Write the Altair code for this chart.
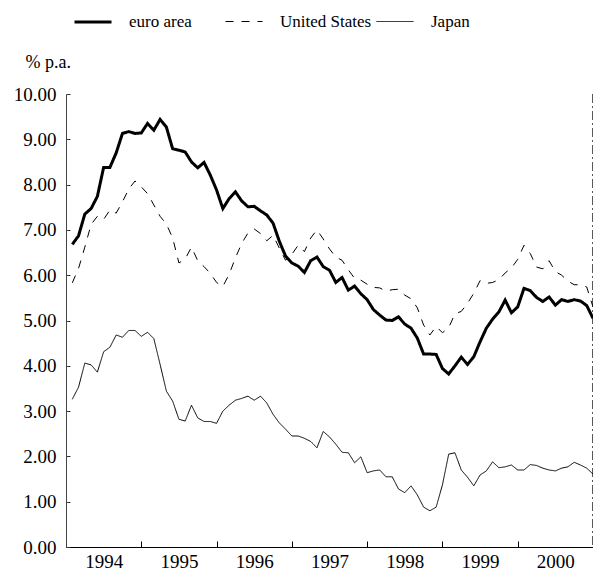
import altair as alt
import pandas as pd

# ---- data (monthly, Jan 1994 - Dec 2000), % p.a. ----
series_names = ["euro area", "United States", "Japan"]

euro_area = [
    6.68, 6.87, 7.35, 7.47, 7.74, 8.38, 8.38, 8.70, 9.13, 9.17, 9.13, 9.14,
    9.35, 9.20, 9.44, 9.27, 8.79, 8.76, 8.72, 8.50, 8.37, 8.49, 8.21, 7.88,
    7.47, 7.69, 7.84, 7.64, 7.51, 7.52, 7.42, 7.33, 7.15, 6.75, 6.42, 6.27,
    6.20, 6.06, 6.32, 6.40, 6.19, 6.11, 5.84, 5.95, 5.67, 5.76, 5.59, 5.46,
    5.24, 5.12, 5.01, 5.00, 5.08, 4.92, 4.83, 4.61, 4.26, 4.26, 4.25, 3.94,
    3.82, 4.00, 4.19, 4.03, 4.20, 4.53, 4.83, 5.03, 5.19, 5.45, 5.17, 5.30,
    5.71, 5.66, 5.51, 5.42, 5.52, 5.34, 5.46, 5.42, 5.46, 5.43, 5.33, 5.05,
]

united_states = [
    5.83, 6.15, 6.62, 7.12, 7.30, 7.23, 7.44, 7.37, 7.62, 7.90, 8.08, 7.95,
    7.80, 7.55, 7.30, 7.13, 6.82, 6.27, 6.36, 6.62, 6.32, 6.19, 6.04, 5.84,
    5.75, 6.02, 6.38, 6.70, 6.93, 7.02, 6.92, 6.76, 6.88, 6.60, 6.33, 6.46,
    6.66, 6.52, 6.82, 7.00, 6.80, 6.58, 6.40, 6.33, 6.12, 5.93, 5.89, 5.80,
    5.73, 5.72, 5.65, 5.68, 5.69, 5.56, 5.48, 5.28, 4.90, 4.68, 4.87, 4.73,
    4.84, 5.15, 5.20, 5.38, 5.60, 5.88, 5.82, 5.84, 5.90, 6.05, 6.16, 6.35,
    6.66, 6.48, 6.18, 6.14, 6.32, 6.08, 6.00, 5.87, 5.79, 5.79, 5.74, 5.30,
]

japan = [
    3.26, 3.53, 4.06, 4.02, 3.86, 4.31, 4.41, 4.68, 4.63, 4.78, 4.78, 4.65,
    4.74, 4.60, 4.03, 3.44, 3.22, 2.82, 2.78, 3.13, 2.85, 2.77, 2.77, 2.73,
    3.00, 3.13, 3.24, 3.28, 3.33, 3.24, 3.33, 3.18, 2.93, 2.74, 2.60, 2.45,
    2.45, 2.40, 2.33, 2.19, 2.55, 2.43, 2.27, 2.09, 2.08, 1.86, 1.99, 1.64,
    1.68, 1.70, 1.55, 1.55, 1.28, 1.20, 1.35, 1.15, 0.88, 0.80, 0.88, 1.37,
    2.05, 2.08, 1.70, 1.54, 1.35, 1.59, 1.68, 1.88, 1.75, 1.77, 1.81, 1.70,
    1.70, 1.82, 1.80, 1.74, 1.70, 1.68, 1.74, 1.77, 1.87, 1.81, 1.74, 1.61,
]

year_ticks = list(range(1994, 2002))   # year boundaries; labels shown for 1994-2000
y_ticks = list(range(0, 11))
end_marker = [2001]

months = pd.date_range("1994-01-01", periods=len(euro_area), freq="MS")
pos = [m.year + m.month / 12 for m in months]  # end of month, fractional years

rows = []
for name, vals in zip(series_names, [euro_area, united_states, japan]):
    for p, m, v in zip(pos, months, vals):
        rows.append({"t": p, "month": m.strftime("%Y-%m"), "series": name, "value": v})
df = pd.DataFrame(rows)

FONT = "Liberation Serif, Times New Roman, serif"
W, H = 527, 453
half_year_px = W / 7 / 2

legend = alt.Legend(
    title=None,
    orient="none",
    legendX=7,
    legendY=-92,
    direction="horizontal",
    columns=3,
    gridAlign="all",
    columnPadding=2,
    labelOffset=16,
    symbolType="stroke",
    symbolSize=1369,
    symbolStrokeColor="black",
    labelFont=FONT,
    labelFontSize=17,
    labelColor="black",
)

x_enc = alt.X(
    "t:Q",
    scale=alt.Scale(domain=[1994, 2001], nice=False, zero=False),
    axis=alt.Axis(
        title=None,
        values=year_ticks,
        format="d",
        labelOffset=half_year_px,
        labelOpacity={"condition": {"test": "datum.value >= 2001", "value": 0}, "value": 1},
        labelOverlap=False,
        labelFlush=False,
        labelBound=False,
        labelFont=FONT,
        labelFontSize=19,
        labelColor="black",
        labelPadding=11,
        tickSize=alt.ExprRef("-6"),
        tickColor="black",
        domainColor="black",
        grid=False,
    ),
)

y_enc = alt.Y(
    "value:Q",
    scale=alt.Scale(domain=[0, 10], nice=False),
    axis=alt.Axis(
        title="% p.a.",
        titleAngle=0,
        titleAlign="left",
        titleBaseline="alphabetic",
        titleX=-41,
        titleY=-27,
        titleFont=FONT,
        titleFontSize=18,
        titleFontWeight="normal",
        titleColor="black",
        values=y_ticks,
        format=".2f",
        labelFont=FONT,
        labelFontSize=19,
        labelColor="black",
        labelPadding=14,
        tickSize=alt.ExprRef("-4"),
        tickColor="#333",
        domainColor="#444",
        grid=False,
    ),
)

lines = alt.Chart(df).mark_line(color="black").encode(
    x=x_enc,
    y=y_enc,
    strokeDash=alt.StrokeDash(
        "series:N",
        scale=alt.Scale(domain=series_names, range=[[1, 0], [8, 8], [1, 0]]),
        legend=legend,
    ),
    strokeWidth=alt.StrokeWidth(
        "series:N",
        scale=alt.Scale(type="ordinal", domain=series_names, range=[3, 1, 1]),
        legend=legend,
    ),
)

rule = alt.Chart(pd.DataFrame({"t": end_marker})).mark_rule(
    color="black", strokeDash=[9, 3, 2, 3], strokeWidth=1.3
).encode(x=alt.X("t:Q"))

chart = (
    alt.layer(lines, rule)
    .properties(
        width=W,
        height=H,
        autosize=alt.AutoSizeParams(type="none"),
        padding={"left": 58, "top": 86, "right": 0, "bottom": 24},
        background="white",
    )
    .configure(font=FONT)
    .configure_view(strokeWidth=0)
    .configure_legend(labelFont=FONT)
    .configure_axis(labelFont=FONT, titleFont=FONT)
)

chart.save("out.html", embed_options={"renderer": "svg", "actions": False})
